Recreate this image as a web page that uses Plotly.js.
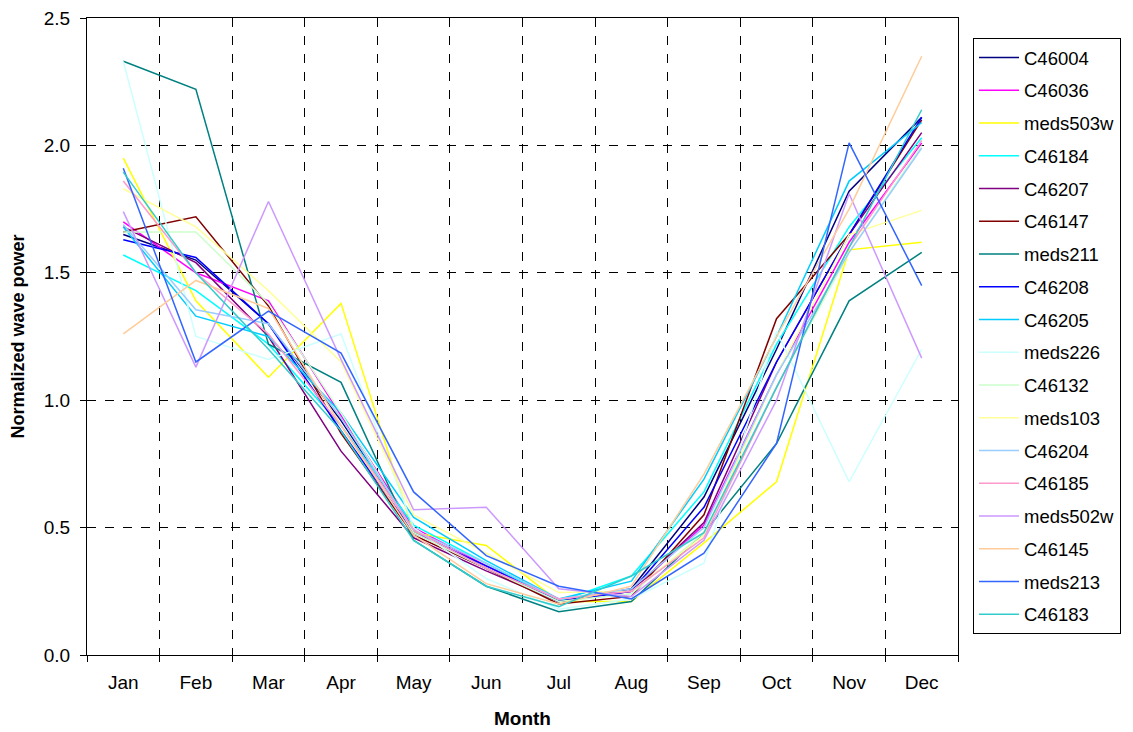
<!DOCTYPE html>
<html>
<head>
<meta charset="utf-8">
<script src="https://cdn.plot.ly/plotly-3.0.1.min.js"></script>
<style>html,body{margin:0;padding:0;background:#fff;}#chart{width:1133px;height:732px;}</style>
</head>
<body>
<div id="chart"></div>
<script>
var months = ["Jan","Feb","Mar","Apr","May","Jun","Jul","Aug","Sep","Oct","Nov","Dec"];
var seriesNames = ["C46004","C46036","meds503w","C46184","C46207","C46147","meds211","C46208","C46205","meds226","C46132","meds103","C46204","C46185","meds502w","C46145","meds213","C46183"];
var seriesColors = ["#000080","#FF00FF","#FFFF00","#00FFFF","#800080","#800000","#008080","#0000FF","#00CCFF","#CCFFFF","#CCFFCC","#FFFF99","#99CCFF","#FF99CC","#CC99FF","#FFCC99","#3366FF","#33CCCC"];

var C46004   = [1.65,1.55,1.30,0.92,0.49,0.34,0.21,0.26,0.62,1.20,1.82,2.11];
var C46036   = [1.70,1.50,1.39,0.94,0.50,0.35,0.22,0.25,0.51,1.10,1.62,2.01];
var meds503w = [1.95,1.39,1.09,1.38,0.48,0.43,0.21,0.21,0.44,0.68,1.59,1.62];
var C46184   = [1.57,1.43,1.22,0.90,0.51,0.36,0.21,0.31,0.64,1.22,1.68,2.03];
var C46207   = [1.68,1.54,1.25,0.80,0.46,0.33,0.21,0.25,0.52,1.15,1.65,2.05];
var C46147   = [1.66,1.72,1.37,0.87,0.47,0.34,0.20,0.23,0.55,1.32,1.65,2.10];
var meds211  = [2.33,2.22,1.22,1.07,0.45,0.27,0.17,0.21,0.48,0.83,1.39,1.58];
var C46208   = [1.63,1.56,1.30,0.88,0.48,0.35,0.21,0.25,0.58,1.15,1.65,2.11];
var C46205   = [1.68,1.33,1.25,0.95,0.54,0.37,0.22,0.29,0.69,1.25,1.86,2.09];
var meds226  = [2.33,1.25,1.16,1.26,0.50,0.30,0.18,0.22,0.36,1.27,0.68,1.20];
var C46132   = [1.66,1.66,1.38,0.95,0.48,0.34,0.21,0.24,0.48,1.05,1.58,2.00];
var meds103  = [1.83,1.68,1.43,1.15,0.55,0.40,0.245,0.25,0.47,1.10,1.65,1.745];
var C46204   = [1.69,1.355,1.30,0.93,0.49,0.36,0.22,0.26,0.50,1.10,1.58,1.99];
var C46185   = [1.86,1.50,1.26,0.90,0.49,0.34,0.22,0.25,0.46,1.05,1.60,2.02];
var meds502w = [1.74,1.13,1.78,1.16,0.57,0.58,0.26,0.23,0.45,1.00,1.81,1.165];
var C46145   = [1.26,1.47,1.36,0.90,0.47,0.28,0.20,0.27,0.71,1.25,1.75,2.35];
var meds213  = [1.91,1.15,1.35,1.185,0.64,0.39,0.27,0.22,0.40,0.83,2.01,1.45];
var C46183   = [1.895,1.50,1.20,0.88,0.45,0.27,0.19,0.31,0.48,1.05,1.60,2.14];

var seriesValues = [C46004,C46036,meds503w,C46184,C46207,C46147,meds211,C46208,C46205,meds226,C46132,meds103,C46204,C46185,meds502w,C46145,meds213,C46183];

var traces = seriesNames.map(function(n,i){
  return {
    type:'scatter', mode:'lines', name:n, x:months, y:seriesValues[i],
    legendgroup:'g'+i,
    line:{color:seriesColors[i], width:1.5}
  };
});

var fam = 'Liberation Sans, Arial, sans-serif';
var layout = {
  width:1133, height:732,
  margin:{l:87, r:175, t:18, b:77},
  paper_bgcolor:'#fff', plot_bgcolor:'#fff',
  font:{family:fam, size:19, color:'#000'},
  showlegend:true,
  legend:{x:1.0172, xanchor:'left', y:0.9686, yanchor:'top',
          bordercolor:'#000', borderwidth:1, bgcolor:'#fff',
          font:{family:fam, size:18.5, color:'#000'},
          itemwidth:40,
          tracegroupgap:5.7},
  xaxis:{type:'category', categoryorder:'array', categoryarray:months,
         range:[-0.5,11.5], tickson:'boundaries',
         showgrid:true, gridcolor:'#000', griddash:'dash', gridwidth:1,
         showline:true, linecolor:'#000', linewidth:1, mirror:true,
         ticks:'outside', ticklen:6, tickcolor:'#000',
         ticklabelstandoff:10,
         tickfont:{family:fam, size:19, color:'#000'},
         title:{text:'<b>Month</b>', font:{family:fam, size:19, color:'#000'}, standoff:19},
         zeroline:false},
  yaxis:{range:[0,2.5], dtick:0.5, tick0:0, tickformat:'.1f',
         showgrid:true, gridcolor:'#000', griddash:'dash', gridwidth:1,
         showline:true, linecolor:'#000', linewidth:1, mirror:true,
         ticks:'outside', ticklen:6, tickcolor:'#000',
         ticklabelstandoff:6,
         tickfont:{family:fam, size:19, color:'#000'},
         title:{text:'<b>Normalized wave power</b>', font:{family:fam, size:18, color:'#000'}, standoff:14},
         zeroline:false}
};

Plotly.newPlot('chart', traces, layout, {displayModeBar:false, staticPlot:true});
</script>
</body>
</html>
